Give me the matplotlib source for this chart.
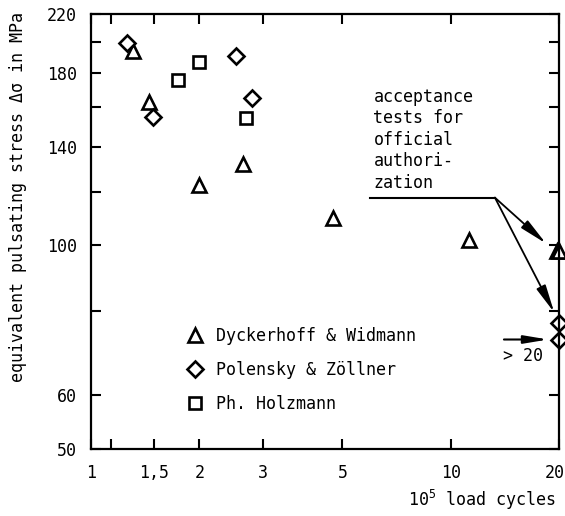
import matplotlib
matplotlib.use("Agg")
import matplotlib.pyplot as plt
from matplotlib.transforms import ScaledTranslation

plt.rcParams["font.family"] = ["DejaVu Sans Mono", "DejaVu Sans"]
plt.rcParams["font.size"] = 12
plt.rcParams["mathtext.fontset"] = "custom"
plt.rcParams["mathtext.rm"] = "DejaVu Sans Mono"

# --- data (10^5 load cycles, MPa) ---
dyck_x = [1.31, 1.445, 1.99, 2.65, 4.71, 11.25, 19.7, 20.0]
dyck_y = [194, 163, 123, 132, 110, 102, 98, 98]
pol_x = [1.26, 1.49, 2.53, 2.80, 20.0, 20.0]
pol_y = [199, 155, 191, 165.5, 76.7, 72.4]
holz_x = [1.75, 1.99, 2.70]
holz_y = [175.6, 186.6, 154.2]

x_ticks = [1, 1.5, 2, 3, 5, 10, 20]
x_ticklabels = ["1", "1,5", "2", "3", "5", "10", "20"]
y_ticks = [50, 60, 80, 100, 120, 140, 160, 180, 200, 220]
y_ticklabels = ["50", "60", "", "100", "", "140", "", "180", "", "220"]

note_text = "acceptance\ntests for\nofficial\nauthori-\nzation"
note_line_x = [5.98, 13.27]
note_line_y = 117.7
note_targets = [(18.4, 100.7), (19.4, 79.6)]

fig = plt.figure(figsize=(5.65, 5.16), dpi=100)
ax = fig.add_axes([91 / 565, 67 / 516, 468 / 565, 435 / 516])
ax.set_xscale("log")
ax.set_yscale("log")

style = dict(ls="none", mfc="white", mec="black", mew=1.9, color="black", clip_on=False)
ax.plot(dyck_x, dyck_y, marker="^", ms=9.5, label="Dyckerhoff & Widmann", **style)
ax.plot(pol_x, pol_y, marker="D", ms=8.5, label="Polensky & Zöllner", **style)
ax.plot(holz_x, holz_y, marker="s", ms=8, label="Ph. Holzmann", **style)

ax.set_xlim(1, 20)
ax.set_ylim(50, 220)
ax.set_xticks(x_ticks)
ax.set_xticklabels(x_ticklabels)
ax.set_xticks([1.14], minor=True)
ax.set_yticks(y_ticks)
ax.set_yticklabels(y_ticklabels)
ax.yaxis.set_minor_locator(matplotlib.ticker.NullLocator())
ax.xaxis.set_minor_formatter(matplotlib.ticker.NullFormatter())
ax.tick_params(which="both", direction="in", top=True, right=True,
               length=7, width=1.5, labelsize=12)
ax.tick_params(axis="x", pad=11)
ax.tick_params(axis="y", pad=10)
for s in ax.spines.values():
    s.set_linewidth(1.6)

# keep the last x label inside the picture
last = ax.get_xticklabels()[-1]
last.set_transform(last.get_transform() + ScaledTranslation(-0.045, 0, fig.dpi_scale_trans))

ax.set_ylabel("equivalent pulsating stress \u0394\u03c3 in MPa", fontsize=12)
ax.yaxis.set_label_coords(-0.137, 0.579)
fig.text(556 / 565, 1 - 500 / 516, "10$^{5}$ load cycles", ha="right", va="center", fontsize=12)

# annotation
ax.text(6.1, 171, note_text, ha="left", va="top", linespacing=1.25, fontsize=12)
ax.plot(note_line_x, [note_line_y, note_line_y], color="black", lw=1.5)
for tx, ty in note_targets:
    ax.annotate("", xy=(tx, ty), xytext=(note_line_x[1], note_line_y),
                arrowprops=dict(arrowstyle="-|>,head_length=1.4,head_width=0.25",
                                color="black", lw=1.3, shrinkA=0, shrinkB=0))
ax.annotate("", xy=(18.66, 72.6), xytext=(14.06, 72.6),
            arrowprops=dict(arrowstyle="-|>,head_length=1.2,head_width=0.2",
                            color="black", lw=1.5, shrinkA=0, shrinkB=0))
ax.text(15.9, 68.6, "> 20", ha="center", va="center", fontsize=12)

ax.legend(loc="upper left", bbox_to_anchor=(0.204, 0.28), frameon=False,
          handlelength=1.0, handletextpad=0.8, labelspacing=0.95,
          borderpad=0, borderaxespad=0, numpoints=1, fontsize=12)

fig.savefig("out.png", dpi=100)
